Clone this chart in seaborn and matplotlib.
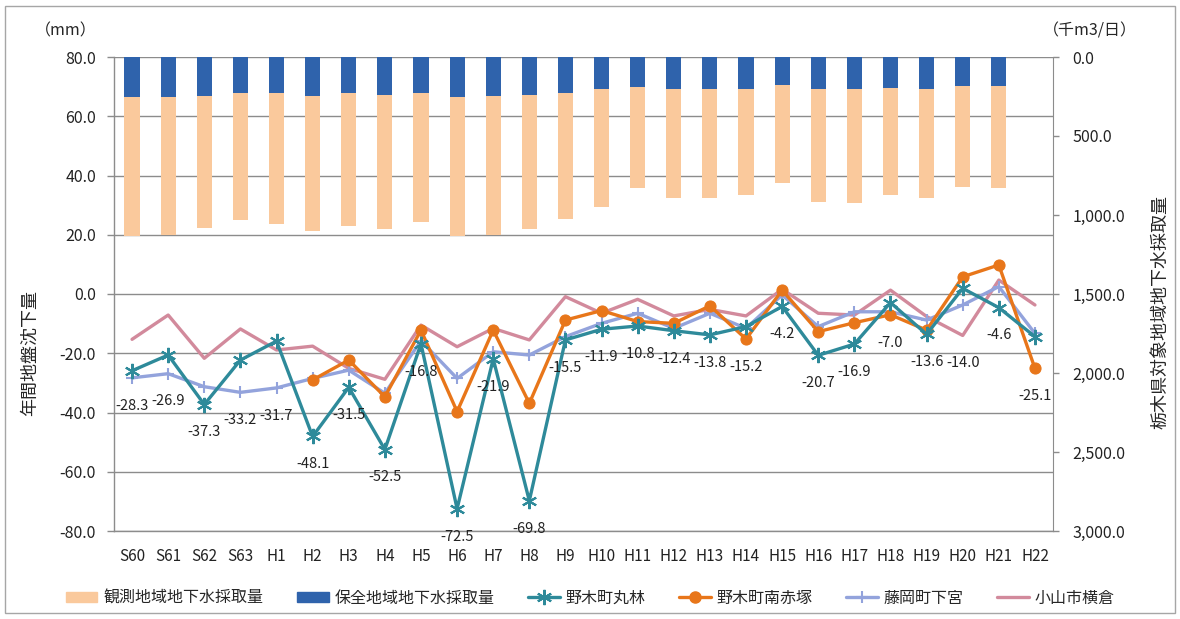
import numpy as np
import pandas as pd
import matplotlib
matplotlib.use("Agg")
import matplotlib.pyplot as plt
import seaborn as sns
from matplotlib.lines import Line2D
from matplotlib.patches import Patch, Rectangle

# categories (fiscal years)
years = ["S60", "S61", "S62", "S63", "H1", "H2", "H3", "H4", "H5", "H6", "H7", "H8", "H9",
         "H10", "H11", "H12", "H13", "H14", "H15", "H16", "H17", "H18", "H19", "H20", "H21", "H22"]

# groundwater pumping (千m3/日), right axis
hozen = [255, 255, 245, 230, 230, 245, 230, 240, 226, 255, 245, 240, 226,
         205, 192, 205, 205, 205, 175, 205, 205, 198, 205, 184, 184, np.nan]
kansoku = [878, 872, 839, 802, 827, 856, 838, 851, 816, 878, 882, 846, 799,
           742, 635, 689, 689, 668, 623, 711, 721, 675, 689, 637, 643, np.nan]

# annual subsidence (mm), left axis
nogi_marubayashi = [-25.9, -20.6, -37.3, -22.3, -15.9, -48.1, -31.5, -52.5, -16.8, -72.5, -21.9, -69.8, -15.5,
                    -11.9, -10.8, -12.4, -13.8, -11.0, -4.2, -20.7, -16.9, -2.9, -13.6, 1.9, -4.6, -14.4]
nogi_minamiakatsuka = [np.nan, np.nan, np.nan, np.nan, np.nan, -29.0, -22.3, -34.7, -12.2, -39.7, -12.2, -36.9, -8.8,
                       -5.6, -9.3, -9.9, -4.0, -15.2, 1.3, -12.7, -9.7, -7.0, -12.2, 5.8, 9.8, -25.1]
fujioka_shimomiya = [-28.3, -26.9, -31.3, -33.2, -31.7, -28.5, -25.7, -33.5, -15.8, -28.5, -19.5, -20.6, -14.4,
                     -9.9, -6.5, -11.6, -6.5, -11.6, -0.3, -11.0, -6.0, -6.0, -8.8, -3.7, 2.5, -13.3]
oyama_yokokura = [-15.3, -7.1, -21.7, -11.8, -18.9, -17.6, -25.1, -28.8, -10.5, -17.8, -11.6, -15.5, -0.9,
                  -6.5, -1.8, -7.4, -5.2, -7.4, 1.6, -6.5, -7.1, 1.3, -7.6, -14.0, 4.7, -3.7]

# maximum subsidence labels
max_labels = [-28.3, -26.9, -37.3, -33.2, -31.7, -48.1, -31.5, -52.5, -16.8, -72.5, -21.9, -69.8, -15.5,
              -11.9, -10.8, -12.4, -13.8, -15.2, -4.2, -20.7, -16.9, -7.0, -13.6, -14.0, -4.6, -25.1]

c_peach = "#FAC99C"
c_blue = "#2F63AC"
c_teal = "#2E8A9A"
c_orange = "#E8761A"
c_lav = "#93A3DC"
c_pink = "#D28A9C"
grid_c = "#8c8c8c"

sns.set_style("white")
plt.rcParams["font.family"] = ["Noto Sans CJK JP", "DejaVu Sans"]

idx = np.arange(len(years))
total = np.array(hozen) + np.array(kansoku)

fig = plt.figure(figsize=(11.8, 6.19), dpi=100)
ax = fig.add_axes([114 / 1180, 1 - 531 / 619, (1053 - 114) / 1180, (531 - 57) / 619])
ax2 = ax.twinx()
ax3 = ax.twinx()

# stacked bars hanging from the top (right axis, inverted)
sns.barplot(x=idx, y=total, ax=ax2, color=c_peach, width=0.42, saturation=1,
            native_scale=True, linewidth=0)
sns.barplot(x=idx, y=hozen, ax=ax2, color=c_blue, width=0.42, saturation=1,
            native_scale=True, linewidth=0)
ax2.set_ylim(3000, 0)

# subsidence lines
sns.lineplot(x=idx, y=oyama_yokokura, ax=ax3, color=c_pink, lw=2.4)
sns.lineplot(x=idx, y=fujioka_shimomiya, ax=ax3, color=c_lav, lw=2.4,
             marker="+", markersize=9, markeredgewidth=1.5, markeredgecolor=c_lav)
sns.lineplot(x=idx, y=nogi_minamiakatsuka, ax=ax3, color=c_orange, lw=2.4,
             marker="o", markersize=8, markeredgecolor=c_orange)
sns.lineplot(x=idx, y=nogi_marubayashi, ax=ax3, color=c_teal, lw=2.4,
             marker=(6, 2, 0), markersize=11, markeredgewidth=1.5, markeredgecolor=c_teal)
ax3.set_ylim(-80, 80)
ax3.yaxis.set_visible(False)
for s in ax3.spines.values():
    s.set_visible(False)

for i, v in enumerate(max_labels):
    ax3.annotate(f"{v:.1f}", (i, v), xytext=(0, -20), textcoords="offset points",
                 ha="center", va="center", fontsize=10.5, color="#222222")

# left axis with grid
ax.set_ylim(-80, 80)
ax.set_yticks(np.arange(-80, 81, 20))
ax.set_yticklabels([f"{v:.1f}" for v in np.arange(-80, 81, 20)], fontsize=11.5, color="#222222")
ax.yaxis.grid(True, color=grid_c, lw=1)
ax.tick_params(axis="y", length=5, width=1, color=grid_c, pad=8)

ax.set_xlim(-0.5, len(years) - 0.5)
ax.set_xticks(idx)
ax.set_xticklabels(years, fontsize=11, color="#222222")
ax.set_xticks(np.arange(-0.5, len(years), 1), minor=True)
ax.tick_params(axis="x", which="major", length=0, pad=12)
ax.tick_params(axis="x", which="minor", length=5, width=1, color=grid_c, direction="out")

for name, s in ax.spines.items():
    s.set_color(grid_c)
    s.set_linewidth(1)
ax.spines["top"].set_visible(False)
ax.spines["right"].set_visible(False)

ax2.set_yticks(np.arange(0, 3001, 500))
ax2.set_yticklabels([f"{v:,.1f}" for v in np.arange(0, 3001, 500)], fontsize=11.5, color="#222222")
ax2.tick_params(axis="y", length=4, width=1, color=grid_c, pad=10)
for name, s in ax2.spines.items():
    s.set_visible(name == "right")
ax2.spines["right"].set_color(grid_c)
ax2.set_ylabel("")
ax.set_ylabel("")

# axis titles and units
fig.text(30 / 1180, 1 - 353 / 619, "年間地盤沈下量", rotation=90, ha="center", va="center", fontsize=13)
fig.text(1160 / 1180, 1 - 312 / 619, "栃木県対象地域地下水採取量", rotation=90, ha="center", va="center", fontsize=13)
fig.text(66 / 1180, 1 - 31 / 619, "（mm）", ha="center", va="center", fontsize=11.5)
fig.text(1090 / 1180, 1 - 31 / 619, "（千m3/日）", ha="center", va="center", fontsize=11.5)

handles = [
    Patch(color=c_peach, label="観測地域地下水採取量"),
    Patch(color=c_blue, label="保全地域地下水採取量"),
    Line2D([], [], color=c_teal, lw=2.4, marker=(6, 2, 0), markersize=11, markeredgewidth=1.5, label="野木町丸林"),
    Line2D([], [], color=c_orange, lw=2.4, marker="o", markersize=8, label="野木町南赤塚"),
    Line2D([], [], color=c_lav, lw=2.4, marker="+", markersize=9, markeredgewidth=1.5, label="藤岡町下宮"),
    Line2D([], [], color=c_pink, lw=2.4, label="小山市横倉"),
]
fig.legend(handles=handles, loc="center", bbox_to_anchor=(0.5, 1 - 598 / 619), ncol=6, frameon=False,
           fontsize=11.5, handlelength=2.0, handletextpad=0.35, columnspacing=2.1, handleheight=0.6)

fig.patches.append(Rectangle((5 / 1180, 6 / 619), 1170 / 1180, 607 / 619, transform=fig.transFigure,
                             fill=False, ec="#a6a6a6", lw=1))

fig.savefig("out.png", dpi=100)
